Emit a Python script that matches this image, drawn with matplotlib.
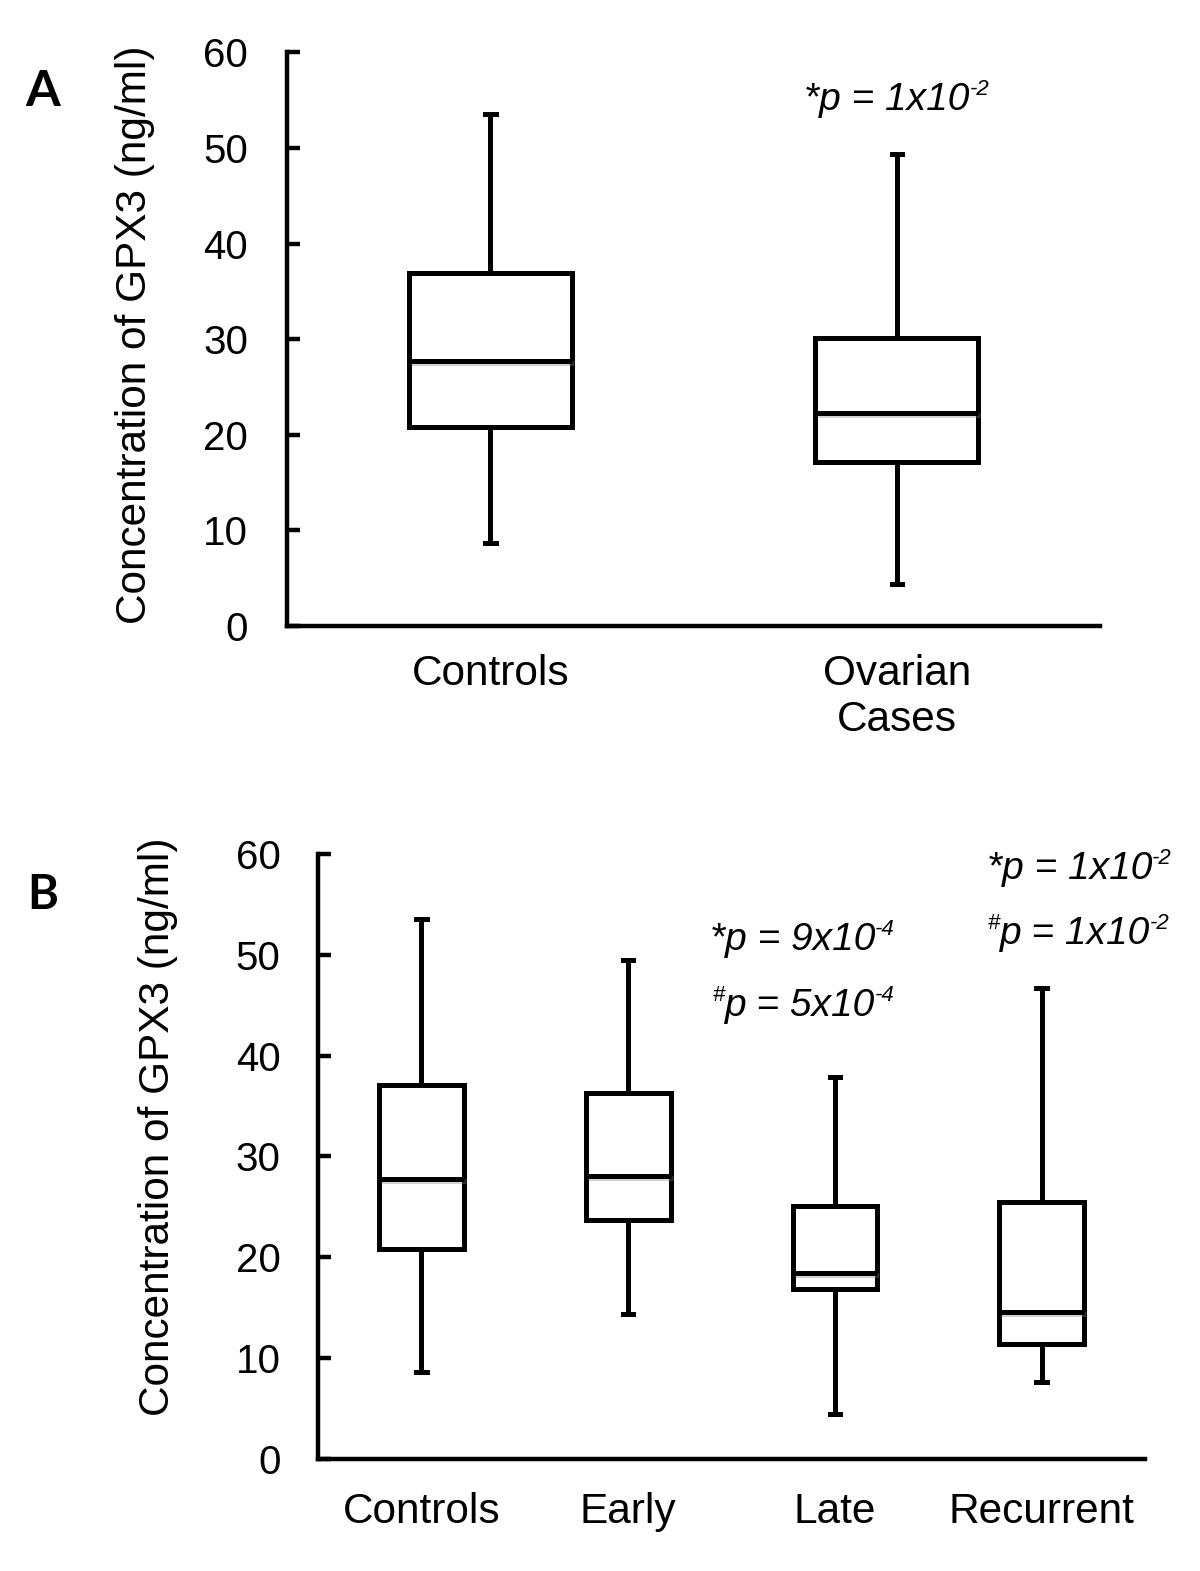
import matplotlib
matplotlib.use("Agg")
import matplotlib.pyplot as plt
import matplotlib.patheffects as pe
from matplotlib.transforms import offset_copy

plt.rcParams['font.family'] = ['Liberation Sans', 'DejaVu Sans']

# ---------------- data ----------------
a_labels = ["Controls", "Ovarian\nCases"]
a_whislo = [8.7, 4.4]
a_q1 = [20.8, 17.2]
a_med = [27.7, 22.3]
a_q3 = [36.9, 30.1]
a_whishi = [53.5, 49.4]

b_labels = ["Controls", "Early", "Late", "Recurrent"]
b_whislo = [8.6, 14.4, 4.4, 7.6]
b_q1 = [20.8, 23.7, 16.8, 11.4]
b_med = [27.8, 28.05, 18.4, 14.6]
b_q3 = [37.1, 36.3, 25.1, 25.5]
b_whishi = [53.6, 49.5, 37.9, 46.7]

y_ticks = [0, 10, 20, 30, 40, 50, 60]
ylabel = "Concentration of GPX3 (ng/ml)"
# p-value annotations: (prefix superscript, main text, exponent)
a_pvals = [("", "*p = 1x10", "-2")]
b_pvals = [("", "*p = 9x10", "-4"), ("#", "p = 5x10", "-4"),
           ("", "*p = 1x10", "-2"), ("#", "p = 1x10", "-2")]

# ---------------- figure ----------------
fig = plt.figure(figsize=(12, 15.71), dpi=100)
renderer = fig.canvas.get_renderer()

LW = 3.6
shadow = [pe.SimpleLineShadow(offset=(1.5, -1.5), shadow_color='0.5', alpha=0.35), pe.Normal()]
pshadow = [pe.SimplePatchShadow(offset=(1.5, -1.5), shadow_rgbFace='0.5', alpha=0.35), pe.Normal()]


def style_axes(ax, ncat, tickpad):
    ax.set_xlim(0, ncat)
    ax.set_ylim(0, 60)
    ax.set_yticks(y_ticks)
    for s in ['top', 'right']:
        ax.spines[s].set_visible(False)
    for s in ['left', 'bottom']:
        ax.spines[s].set_linewidth(3.2)
    ax.tick_params(axis='y', direction='in', length=9.5, width=3.2,
                   labelsize=29, pad=tickpad)
    ax.tick_params(axis='x', length=0, labelsize=30.5)


def draw_boxes(ax, labels, lo, q1, med, q3, hi, width, capw):
    stats = []
    for i in range(len(labels)):
        stats.append(dict(label=labels[i], whislo=lo[i], q1=q1[i], med=med[i],
                          q3=q3[i], whishi=hi[i], fliers=[]))
    pos = [i + 0.5 for i in range(len(labels))]
    res = ax.bxp(stats, positions=pos, widths=width, capwidths=capw,
                 showfliers=False, patch_artist=True,
                 boxprops=dict(facecolor='white', edgecolor='black', linewidth=LW),
                 medianprops=dict(color='black', linewidth=LW),
                 whiskerprops=dict(color='black', linewidth=LW),
                 capprops=dict(color='black', linewidth=LW))
    for b in res['boxes']:
        b.set_path_effects(pshadow)
    for m in res['medians']:
        m.set_path_effects(shadow)


def ptext(ax, x, y, pre, main, sup, ha, size=28):
    sub = 16
    rise = 15
    parts = [(pre, sub, rise), (main, size, 0), (sup, sub, rise)]
    texts = []
    widths = []
    for s, fs, dy in parts:
        if not s:
            continue
        t = ax.text(x, y, s, fontsize=fs, fontstyle='italic', ha='left',
                    va='baseline', clip_on=False)
        w = t.get_window_extent(renderer).width
        texts.append((t, dy))
        widths.append(w)
    total = sum(widths)
    if ha == 'right':
        dx = -total
    elif ha == 'center':
        dx = -total / 2
    else:
        dx = 0
    for (t, dy), w in zip(texts, widths):
        t.set_transform(offset_copy(ax.transData, fig=fig, x=dx, y=dy, units='dots'))
        dx += w


# Panel A
axA = fig.add_axes([0.2392, 0.6015, 0.6775, 0.3652])
draw_boxes(axA, a_labels, a_whislo, a_q1, a_med, a_q3, a_whishi, 0.40, 0.026)
style_axes(axA, 2, 28)
axA.tick_params(axis='x', pad=20)
axA.set_ylabel(ylabel, fontsize=30.5)
axA.yaxis.set_label_coords(-0.163, 0.508)
ptext(axA, 1.50, 54.0, *a_pvals[0], ha='center')
fig.text(43 / 1200, 1 - 91 / 1571, "A", fontsize=36, fontweight='bold',
         family='Lato', ha='center', va='center')

# Panel B
axB = fig.add_axes([0.265, 0.0714, 0.6892, 0.385])
draw_boxes(axB, b_labels, b_whislo, b_q1, b_med, b_q3, b_whishi, 0.41, 0.05)
style_axes(axB, 4, 27)
axB.tick_params(axis='x', pad=24)
axB.set_ylabel(ylabel, fontsize=30.5)
axB.yaxis.set_label_coords(-0.169, 0.549)
ptext(axB, 2.79, 50.5, *b_pvals[0], ha='right')
ptext(axB, 2.79, 43.9, *b_pvals[1], ha='right')
ptext(axB, 4.13, 57.55, *b_pvals[2], ha='right')
ptext(axB, 4.12, 51.07, *b_pvals[3], ha='right')
fig.text(43 / 1200, 1 - 895 / 1571, "B", fontsize=34, fontweight='bold',
         family='Lato', ha='center', va='center')

fig.savefig("out.png", dpi=100)
